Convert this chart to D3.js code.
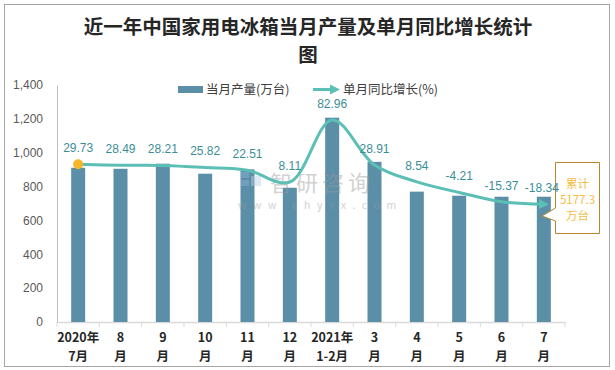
<!DOCTYPE html>
<html>
<head>
<meta charset="utf-8">
<script src="https://cdn.jsdelivr.net/npm/d3@7"></script>
<style>
  body { margin: 0; background: #fff; }
  svg { display: block; font-family: "Noto Sans CJK SC", "Noto Sans", sans-serif; }
</style>
</head>
<body>
<svg id="chart" width="615" height="370"></svg>
<script>
// data
const months = ["2020年|7月", "8|月", "9|月", "10|月", "11|月", "12|月", "2021年|1-2月", "3|月", "4|月", "5|月", "6|月", "7|月"];
const output = [911, 905, 935, 876, 902, 793, 1207, 946, 770, 746, 740, 740];
const growth = [29.73, 28.49, 28.21, 25.82, 22.51, 8.11, 82.96, 28.91, 8.54, -4.21, -15.37, -18.34];
const yTicks = [0, 200, 400, 600, 800, 1000, 1200, 1400];

const svg = d3.select("#chart");
const plotL = 57, plotR = 565, plotT = 85, plotB = 322;

// outer frame
svg.append("rect")
  .attr("x", 4.5).attr("y", 4.5).attr("width", 605).attr("height", 362)
  .attr("fill", "#fff").attr("stroke", "#a6a6a6");

// title
const title = svg.append("text")
  .attr("text-anchor", "middle")
  .attr("font-size", 19.5).attr("font-weight", "bold").attr("fill", "#262626");
title.append("tspan").attr("x", 308).attr("y", 34).text("近一年中国家用电冰箱当月产量及单月同比增长统计");
title.append("tspan").attr("x", 308).attr("y", 62).text("图");

const x = d3.scaleBand().domain(months).range([plotL, plotR]);
const y = d3.scaleLinear().domain([0, 1400]).range([plotB, plotT]);
const y2 = d3.scaleLinear().domain([-160, 125]).range([plotB, plotT]);

// y axis
const yAxis = svg.append("g")
  .attr("transform", `translate(${plotL},0)`)
  .call(d3.axisLeft(y).tickValues(yTicks).tickSize(0).tickPadding(14).tickFormat(d3.format(",")));
yAxis.select(".domain").attr("stroke", "#bfbfbf");
yAxis.selectAll("text").attr("font-size", 12).attr("fill", "#595959")
  .attr("font-family", "Liberation Sans, Arial, sans-serif");

// x axis
const xAxis = svg.append("g")
  .attr("transform", `translate(0,${plotB})`)
  .call(d3.axisBottom(x).tickSize(0).tickFormat(""));
xAxis.select(".domain").attr("stroke", "#d9d9d9").attr("stroke-width", 1.5);
xAxis.selectAll(".tick").remove();
svg.append("g").selectAll("line")
  .data(months.concat(["end"]))
  .join("line")
  .attr("x1", (d, i) => plotL + i * x.bandwidth())
  .attr("x2", (d, i) => plotL + i * x.bandwidth())
  .attr("y1", plotB).attr("y2", plotB + 5)
  .attr("stroke", "#d9d9d9");

const xl = svg.append("g").selectAll("text")
  .data(months)
  .join("text")
  .attr("text-anchor", "middle")
  .attr("font-size", 12.5).attr("font-weight", "bold").attr("fill", "#262626");
xl.append("tspan").attr("x", d => x(d) + x.bandwidth() / 2).attr("y", 342).text(d => d.split("|")[0]);
xl.append("tspan").attr("x", d => x(d) + x.bandwidth() / 2).attr("y", 361).text(d => d.split("|")[1]);

// bars
svg.append("g").selectAll("rect")
  .data(output)
  .join("rect")
  .attr("x", (d, i) => x(months[i]) + x.bandwidth() / 2 - 7)
  .attr("width", 14)
  .attr("y", d => y(d))
  .attr("height", d => plotB - y(d))
  .attr("fill", "#5b8fa8");

// watermark
const wm = svg.append("g").attr("opacity", 0.45);
wm.append("rect").attr("x", 241).attr("y", 172).attr("width", 8).attr("height", 6).attr("fill", "#8fb3d9");
wm.append("rect").attr("x", 241).attr("y", 180).attr("width", 8).attr("height", 6).attr("fill", "#8fb3d9");
wm.append("rect").attr("x", 251).attr("y", 176).attr("width", 10).attr("height", 10).attr("fill", "#b9cfe6");
wm.append("text").attr("x", 270).attr("y", 191).attr("font-size", 22).attr("fill", "#9a9a9a")
  .attr("letter-spacing", 4).text("智研咨询");
wm.append("text").attr("x", 238).attr("y", 209).attr("font-size", 10.5).attr("fill", "#9a9a9a")
  .attr("letter-spacing", 6.6).text("www.chyxx.com");

// cumulative callout (under the last line label, as in the reference)
svg.append("path")
  .attr("d", "M555.5,162.5 H599.5 V233.5 H555.5 V221 L542,216 L555.5,208 Z")
  .attr("fill", "#fff").attr("stroke", "#b8862b");
const co = svg.append("text").attr("text-anchor", "middle").attr("font-size", 11.5).attr("fill", "#f5bd45");
co.append("tspan").attr("x", 577.5).attr("y", 188).text("累计");
co.append("tspan").attr("x", 577.5).attr("y", 204).text("5177.3");
co.append("tspan").attr("x", 577.5).attr("y", 220).text("万台");

// growth line
const defs = svg.append("defs");
defs.append("marker")
  .attr("id", "arrow").attr("viewBox", "0 0 10 10")
  .attr("refX", 5).attr("refY", 5)
  .attr("markerWidth", 3.4).attr("markerHeight", 3.4)
  .attr("orient", "auto")
  .append("path").attr("d", "M0,0 L10,5 L0,10 z").attr("fill", "#5bbfb5");

const line = d3.line()
  .x((d, i) => x(months[i]) + x.bandwidth() / 2)
  .y(d => y2(d))
  .curve(d3.curveCatmullRom.alpha(0.5));

svg.append("path")
  .datum(growth)
  .attr("d", line)
  .attr("fill", "none")
  .attr("stroke", "#5bbfb5").attr("stroke-width", 3)
  .attr("marker-end", "url(#arrow)");

svg.append("circle")
  .attr("cx", x(months[0]) + x.bandwidth() / 2)
  .attr("cy", y2(growth[0]))
  .attr("r", 5).attr("fill", "#f5b62a");

svg.append("g").selectAll("text")
  .data(growth)
  .join("text")
  .attr("x", (d, i) => x(months[i]) + x.bandwidth() / 2 - (i === growth.length - 1 ? 2 : 0))
  .attr("y", d => y2(d) - 12)
  .attr("text-anchor", "middle")
  .attr("font-size", 12).attr("fill", "#3b8e96")
  .attr("font-family", "Liberation Sans, Arial, sans-serif")
  .text(d => d.toFixed(2));

// legend
svg.append("rect").attr("x", 178).attr("y", 86).attr("width", 25).attr("height", 7).attr("fill", "#5b8fa8");
svg.append("text").attr("x", 206).attr("y", 94).attr("font-size", 12.5).attr("fill", "#404040").text("当月产量(万台)");
svg.append("line").attr("x1", 313).attr("x2", 335).attr("y1", 89.5).attr("y2", 89.5)
  .attr("stroke", "#5bbfb5").attr("stroke-width", 3).attr("marker-end", "url(#arrow)");
svg.append("text").attr("x", 343).attr("y", 94).attr("font-size", 12.5).attr("fill", "#404040").text("单月同比增长(%)");
</script>
</body>
</html>
